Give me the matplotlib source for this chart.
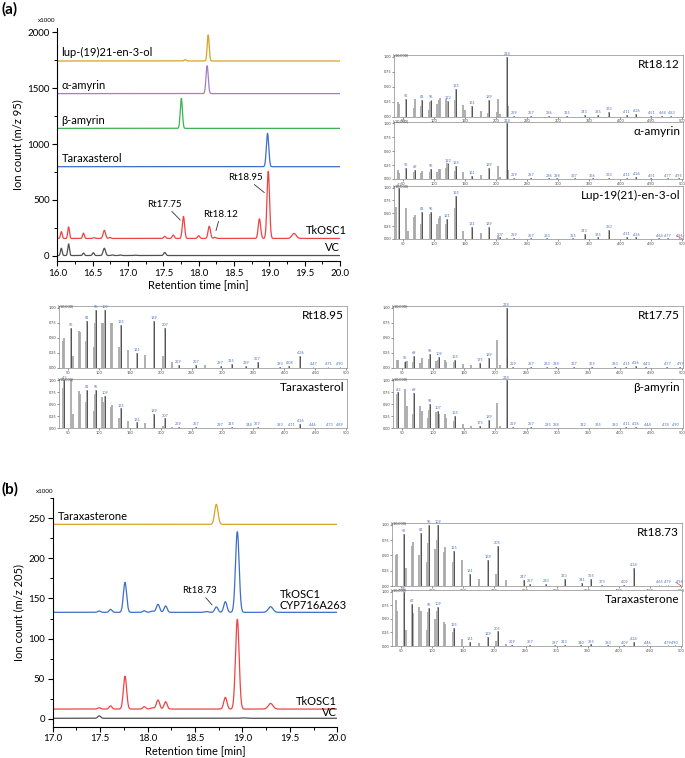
import numpy as np
import matplotlib
matplotlib.use("Agg")
import matplotlib.pyplot as plt
from matplotlib.ticker import MultipleLocator

plt.rcParams['font.family'] = ['Lato', 'DejaVu Sans']

# ---------------- chromatogram (a), m/z 95 ----------------
A_XTICKS = [16.0, 16.5, 17.0, 17.5, 18.0, 18.5, 19.0, 19.5, 20.0]
A_YTICKS = [0, 500, 1000, 1500, 2000]

LUP_BASE = 1743
LUP_RT = [17.81, 18.135]
LUP_H = [12, 233]
LUP_W = [0.015, 0.014]

AAMY_BASE = 1451
AAMY_RT = [18.12]
AAMY_H = [250]
AAMY_W = [0.016]

BAMY_BASE = 1140
BAMY_RT = [17.755]
BAMY_H = [269]
BAMY_W = [0.015]

TARAX_BASE = 797
TARAX_RT = [18.975]
TARAX_H = [298]
TARAX_W = [0.017]

TKA_BASE = 155
TKA_RT = [16.057, 16.16, 16.37, 16.52, 16.665, 16.745, 17.52, 17.64, 17.785, 18.0, 18.15, 18.23, 18.86, 18.985, 19.35]
TKA_H = [61, 103, 48, 6, 73, 10, 18, 30, 197, 24, 109, 10, 176, 600, 45]
TKA_W = [0.012, 0.012, 0.012, 0.015, 0.017, 0.012, 0.015, 0.015, 0.016, 0.015, 0.017, 0.015, 0.017, 0.018, 0.03]

VCA_BASE = 2
VCA_RT = [16.057, 16.16, 16.37, 16.51, 16.665, 16.78, 16.89, 17.1, 17.52]
VCA_H = [65, 104, 22, 25, 65, 5, 5, 3, 28]
VCA_W = [0.012, 0.012, 0.012, 0.013, 0.017, 0.015, 0.015, 0.015, 0.015]

# ---------------- chromatogram (b), m/z 205 ----------------
B_XTICKS = [17.0, 17.5, 18.0, 18.5, 19.0, 19.5, 20.0]
B_YTICKS = [0, 50, 100, 150, 200, 250]

TXONE_BASE = 242.5
TXONE_RT = [18.725]
TXONE_H = [25]
TXONE_W = [0.018]

TKCYP_BASE = 132.7
TKCYP_RT = [17.49, 17.61, 17.762, 17.965, 18.05, 18.11, 18.19, 18.62, 18.725, 18.82, 18.946, 19.297]
TKCYP_H = [1.7, 3.7, 37.4, 2, 1.5, 10, 8, 1, 6.7, 13.3, 100.7, 7]
TKCYP_W = [0.015, 0.015, 0.017, 0.015, 0.02, 0.017, 0.016, 0.02, 0.017, 0.017, 0.019, 0.025]

TKB_BASE = 12
TKB_RT = [17.49, 17.61, 17.762, 17.965, 18.05, 18.11, 18.19, 18.82, 18.946, 19.297]
TKB_H = [1.7, 4, 41, 3, 1.5, 11.3, 9.2, 14.6, 112, 7]
TKB_W = [0.015, 0.015, 0.017, 0.015, 0.02, 0.017, 0.016, 0.017, 0.019, 0.025]

VCB_BASE = 0.5
VCB_RT = [17.49, 19.0]
VCB_H = [3, 0.5]
VCB_W = [0.015, 0.03]

# ---------------- mass spectra ----------------
MS_XTICKS = [50, 100, 150, 200, 250, 300, 350, 400, 450, 500]
MS_YTICKS = [0.0, 0.25, 0.5, 0.75, 1.0]

# Rt18.12
S1_MZ = [41, 43, 55, 67, 69, 79, 81, 91, 93, 95, 105, 107, 109, 119, 121, 133, 135, 147, 149, 161, 175, 187, 189, 201, 203, 207, 218, 219, 229, 257, 286, 315, 343, 365, 383, 411, 426, 451, 468, 483]
S1_I = [0.25, 0.22, 0.30, 0.15, 0.29, 0.18, 0.28, 0.12, 0.25, 0.27, 0.22, 0.28, 0.31, 0.30, 0.27, 0.28, 0.47, 0.20, 0.12, 0.18, 0.10, 0.06, 0.28, 0.08, 0.30, 0.05, 1.00, 0.18, 0.02, 0.02, 0.02, 0.01, 0.03, 0.03, 0.08, 0.03, 0.05, 0.01, 0.01, 0.01]
S1_LAB = [55, 81, 95, 122, 135, 161, 189, 218, 229, 257, 286, 315, 343, 365, 383, 411, 426, 451, 468, 483]
S1_LAB_I = [0.30, 0.28, 0.28, 0.27, 0.47, 0.18, 0.28, 1.00, 0.02, 0.02, 0.02, 0.01, 0.03, 0.03, 0.08, 0.03, 0.05, 0.01, 0.01, 0.01]

# alpha-amyrin
S2_MZ = [41, 43, 55, 67, 69, 79, 81, 93, 95, 105, 107, 109, 119, 121, 133, 135, 147, 161, 175, 189, 203, 207, 218, 219, 229, 257, 286, 298, 327, 356, 383, 411, 426, 451, 477, 495]
S2_I = [0.16, 0.10, 0.20, 0.12, 0.16, 0.10, 0.15, 0.12, 0.18, 0.12, 0.18, 0.18, 0.20, 0.28, 0.15, 0.23, 0.12, 0.06, 0.07, 0.20, 0.23, 0.04, 1.00, 0.17, 0.02, 0.02, 0.01, 0.01, 0.01, 0.01, 0.02, 0.02, 0.04, 0.01, 0.01, 0.01]
S2_LAB = [55, 69, 95, 122, 135, 161, 189, 218, 229, 257, 286, 298, 327, 356, 383, 411, 426, 451, 477, 495]
S2_LAB_I = [0.20, 0.16, 0.18, 0.28, 0.23, 0.06, 0.20, 1.00, 0.02, 0.02, 0.01, 0.01, 0.01, 0.01, 0.02, 0.02, 0.04, 0.01, 0.01, 0.01]

# Lup-19(21)-en-3-ol
S3_MZ = [39, 43, 55, 57, 67, 69, 79, 81, 93, 95, 105, 107, 109, 119, 121, 133, 135, 147, 161, 175, 189, 203, 207, 218, 229, 257, 283, 325, 343, 365, 383, 411, 426, 464, 477]
S3_I = [0.62, 1.00, 0.60, 0.15, 0.43, 0.46, 0.30, 0.53, 0.48, 0.52, 0.30, 0.40, 0.44, 0.30, 0.39, 0.60, 0.84, 0.15, 0.24, 0.12, 0.24, 0.05, 0.03, 0.02, 0.02, 0.01, 0.01, 0.01, 0.10, 0.03, 0.18, 0.04, 0.03, 0.01, 0.01]
S3_LAB = [43, 81, 95, 121, 135, 161, 189, 207, 229, 257, 283, 325, 343, 365, 383, 411, 426, 464, 477, 496]
S3_LAB_I = [1.00, 0.53, 0.52, 0.39, 0.84, 0.24, 0.24, 0.03, 0.02, 0.01, 0.01, 0.01, 0.10, 0.03, 0.18, 0.04, 0.03, 0.01, 0.01, 0.01]

# Rt18.95
S4_MZ = [41, 43, 55, 57, 67, 69, 79, 81, 91, 93, 95, 105, 107, 109, 119, 121, 133, 135, 147, 161, 175, 189, 203, 207, 218, 229, 257, 272, 297, 315, 339, 357, 393, 408, 426]
S4_I = [0.45, 0.50, 0.67, 0.20, 0.62, 0.60, 0.45, 0.78, 0.35, 0.75, 0.97, 0.75, 0.75, 0.97, 0.75, 0.74, 0.35, 0.72, 0.30, 0.25, 0.22, 0.78, 0.20, 0.66, 0.10, 0.05, 0.05, 0.05, 0.03, 0.07, 0.03, 0.10, 0.02, 0.03, 0.20]
S4_LAB = [55, 81, 95, 109, 135, 161, 189, 207, 229, 257, 297, 315, 339, 357, 393, 408, 426, 447, 471, 490]
S4_LAB_I = [0.67, 0.78, 0.97, 0.97, 0.72, 0.25, 0.78, 0.66, 0.05, 0.05, 0.03, 0.07, 0.03, 0.10, 0.02, 0.03, 0.20, 0.01, 0.01, 0.01]

# Taraxasterol
S5_MZ = [41, 43, 55, 57, 67, 69, 79, 81, 91, 93, 95, 105, 107, 109, 119, 121, 133, 135, 147, 161, 175, 189, 203, 207, 218, 229, 257, 297, 315, 344, 357, 393, 411, 426]
S5_I = [0.85, 1.00, 1.00, 0.30, 0.78, 0.72, 0.55, 0.80, 0.35, 0.72, 0.80, 0.65, 0.55, 0.68, 0.45, 0.48, 0.20, 0.41, 0.15, 0.12, 0.10, 0.30, 0.05, 0.20, 0.03, 0.02, 0.02, 0.01, 0.02, 0.01, 0.02, 0.01, 0.01, 0.08]
S5_LAB = [43, 81, 95, 109, 135, 161, 189, 207, 229, 257, 297, 315, 344, 357, 393, 411, 426, 446, 473, 489]
S5_LAB_I = [1.00, 0.80, 0.80, 0.68, 0.41, 0.12, 0.30, 0.20, 0.02, 0.02, 0.01, 0.02, 0.01, 0.02, 0.01, 0.01, 0.08, 0.01, 0.01, 0.01]

# Rt17.75
S6_MZ = [41, 43, 55, 57, 67, 69, 79, 81, 93, 95, 105, 107, 109, 119, 121, 133, 135, 147, 161, 175, 189, 203, 207, 218, 219, 229, 257, 283, 298, 327, 355, 393, 411, 426, 443, 477, 497]
S6_I = [0.13, 0.13, 0.10, 0.12, 0.10, 0.20, 0.08, 0.17, 0.15, 0.24, 0.12, 0.13, 0.18, 0.13, 0.10, 0.10, 0.14, 0.07, 0.05, 0.09, 0.17, 0.47, 0.05, 1.00, 0.17, 0.02, 0.02, 0.01, 0.01, 0.01, 0.01, 0.01, 0.02, 0.03, 0.01, 0.01, 0.01]
S6_LAB = [55, 69, 95, 109, 135, 175, 189, 218, 229, 257, 283, 298, 327, 355, 393, 411, 426, 443, 477, 497]
S6_LAB_I = [0.12, 0.20, 0.24, 0.18, 0.14, 0.09, 0.17, 1.00, 0.02, 0.02, 0.01, 0.01, 0.01, 0.01, 0.01, 0.02, 0.03, 0.01, 0.01, 0.01]

# beta-amyrin
S7_MZ = [41, 43, 55, 57, 67, 69, 79, 81, 91, 93, 95, 105, 107, 109, 119, 121, 133, 135, 147, 161, 175, 189, 203, 207, 218, 219, 229, 257, 285, 298, 342, 365, 393, 411, 426]
S7_I = [0.72, 0.75, 0.82, 0.47, 0.30, 0.74, 0.47, 0.35, 0.20, 0.37, 0.51, 0.33, 0.36, 0.30, 0.30, 0.20, 0.15, 0.25, 0.08, 0.05, 0.05, 0.17, 0.53, 0.05, 1.00, 0.18, 0.02, 0.02, 0.01, 0.01, 0.01, 0.01, 0.01, 0.02, 0.03]
S7_LAB = [43, 69, 95, 107, 135, 175, 189, 218, 229, 257, 285, 298, 342, 365, 393, 411, 426, 444, 474, 490]
S7_LAB_I = [0.75, 0.74, 0.51, 0.36, 0.25, 0.05, 0.17, 1.00, 0.02, 0.02, 0.01, 0.01, 0.01, 0.01, 0.01, 0.02, 0.03, 0.01, 0.01, 0.01]

# Rt18.73
S8_MZ = [41, 43, 55, 57, 67, 69, 79, 81, 91, 93, 95, 105, 107, 109, 119, 121, 133, 135, 147, 161, 175, 189, 203, 205, 218, 247, 257, 283, 313, 341, 355, 373, 409, 424]
S8_I = [0.50, 0.52, 0.85, 0.30, 0.65, 0.72, 0.50, 0.87, 0.40, 0.70, 1.00, 0.60, 0.75, 1.00, 0.55, 0.63, 0.40, 0.57, 0.43, 0.20, 0.12, 0.43, 0.20, 0.66, 0.10, 0.10, 0.03, 0.03, 0.12, 0.05, 0.12, 0.02, 0.02, 0.29]
S8_LAB = [55, 81, 95, 109, 135, 161, 189, 205, 247, 257, 283, 313, 341, 355, 373, 409, 424, 465, 479, 498]
S8_LAB_I = [0.85, 0.87, 1.00, 1.00, 0.57, 0.20, 0.43, 0.66, 0.10, 0.03, 0.03, 0.12, 0.05, 0.12, 0.02, 0.02, 0.29, 0.01, 0.01, 0.01]

# Taraxasterone
S9_MZ = [41, 43, 55, 57, 67, 69, 79, 81, 91, 93, 95, 105, 107, 109, 119, 121, 133, 135, 147, 161, 175, 189, 203, 205, 218, 229, 257, 297, 313, 340, 355, 383, 409, 424]
S9_I = [0.85, 0.65, 1.00, 0.30, 0.78, 0.60, 0.72, 0.65, 0.30, 0.62, 0.70, 0.50, 0.65, 0.72, 0.45, 0.40, 0.25, 0.33, 0.12, 0.08, 0.06, 0.17, 0.10, 0.27, 0.03, 0.02, 0.02, 0.01, 0.02, 0.01, 0.03, 0.01, 0.01, 0.08]
S9_LAB = [55, 67, 95, 109, 135, 161, 189, 205, 229, 257, 297, 313, 340, 355, 383, 409, 424, 446, 479, 490]
S9_LAB_I = [1.00, 0.78, 0.70, 0.72, 0.33, 0.08, 0.17, 0.27, 0.02, 0.02, 0.01, 0.02, 0.01, 0.03, 0.01, 0.01, 0.08, 0.01, 0.01, 0.01]

# ---------------- colours ----------------
C_GOLD = '#d8a326'
C_PURPLE = '#a27fc8'
C_GREEN = '#3db24f'
C_BLUE = '#3b6fc6'
C_RED = '#ef4343'
C_GREY = '#505050'
C_MSLAB = '#4f74c0'

W, H = 685, 758
fig = plt.figure(figsize=(W / 100, H / 100), dpi=100)


def rect(l, t, r, b):
    return [l / W, 1 - b / H, (r - l) / W, (b - t) / H]


def trace(x, base, rts, hs, ws):
    y = np.full_like(x, float(base))
    for rt, h, w in zip(rts, hs, ws):
        y += h * np.exp(-0.5 * ((x - rt) / w) ** 2)
    return y


def style_chrom(ax):
    for s in ['top', 'right']:
        ax.spines[s].set_visible(False)
    for s in ['left', 'bottom']:
        ax.spines[s].set_linewidth(0.8)
    ax.tick_params(which='major', direction='out', length=3.5, width=0.8, labelsize=7, pad=2)
    ax.tick_params(which='minor', direction='out', length=2.2, width=0.7)


# ---------- panel (a) chromatogram ----------
axA = fig.add_axes(rect(57.3, 27.8, 340, 261))
xa = np.linspace(16, 20, 3000)
for base, rts, hs, ws, c in [
    (LUP_BASE, LUP_RT, LUP_H, LUP_W, C_GOLD),
    (AAMY_BASE, AAMY_RT, AAMY_H, AAMY_W, C_PURPLE),
    (BAMY_BASE, BAMY_RT, BAMY_H, BAMY_W, C_GREEN),
    (TARAX_BASE, TARAX_RT, TARAX_H, TARAX_W, C_BLUE),
    (TKA_BASE, TKA_RT, TKA_H, TKA_W, C_RED),
    (VCA_BASE, VCA_RT, VCA_H, VCA_W, C_GREY),
]:
    axA.plot(xa, trace(xa, base, rts, hs, ws), color=c, lw=0.9)
axA.set_xlim(16, 20)
axA.set_ylim(-47, 2040)
axA.set_xticks(A_XTICKS)
axA.set_yticks(A_YTICKS)
axA.xaxis.set_minor_locator(MultipleLocator(0.25))
axA.yaxis.set_minor_locator(MultipleLocator(250))
style_chrom(axA)
axA.set_xlabel('Retention time [min]', fontsize=8, labelpad=1)
axA.set_ylabel('Ion count (m/z 95)', fontsize=8, labelpad=3)
fs_lab = 8
axA.text(16.06, LUP_BASE + 25, 'lup-(19)21-en-3-ol', fontsize=fs_lab, va='bottom')
axA.text(16.06, AAMY_BASE + 25, 'α-amyrin', fontsize=fs_lab, va='bottom')
axA.text(16.06, BAMY_BASE + 25, 'β-amyrin', fontsize=fs_lab, va='bottom')
axA.text(16.06, TARAX_BASE + 25, 'Taraxasterol', fontsize=fs_lab, va='bottom')
axA.text(20.1, TKA_BASE + 25, 'TkOSC1', fontsize=fs_lab, va='bottom', ha='right')
axA.text(20.0, VCA_BASE + 25, 'VC', fontsize=fs_lab, va='bottom', ha='right')
axA.annotate('Rt17.75', xy=(17.74, 319), xytext=(17.52, 440), fontsize=7, ha='center',
             arrowprops=dict(arrowstyle='-', lw=0.6, color='#333333', shrinkA=0, shrinkB=0))
axA.annotate('Rt18.12', xy=(18.245, 224), xytext=(18.31, 350), fontsize=7, ha='center',
             arrowprops=dict(arrowstyle='-', lw=0.6, color='#333333', shrinkA=0, shrinkB=0))
axA.annotate('Rt18.95', xy=(18.93, 565), xytext=(18.66, 680), fontsize=7, ha='center',
             arrowprops=dict(arrowstyle='-', lw=0.6, color='#333333', shrinkA=0, shrinkB=0))
fig.text(47 / W, 1 - 20 / H, 'x1000', fontsize=4.5, ha='center', va='center')
fig.text(2 / W, 1 - 9 / H, '(a)', fontsize=11, fontweight='bold', ha='left', va='center')

# ---------- panel (b) chromatogram ----------
axB = fig.add_axes(rect(52.7, 498.3, 337.3, 726.7))
xb = np.linspace(17, 20, 3000)
for base, rts, hs, ws, c in [
    (TXONE_BASE, TXONE_RT, TXONE_H, TXONE_W, C_GOLD),
    (TKCYP_BASE, TKCYP_RT, TKCYP_H, TKCYP_W, C_BLUE),
    (TKB_BASE, TKB_RT, TKB_H, TKB_W, C_RED),
    (VCB_BASE, VCB_RT, VCB_H, VCB_W, C_GREY),
]:
    axB.plot(xb, trace(xb, base, rts, hs, ws), color=c, lw=0.9)
axB.set_xlim(17, 20)
axB.set_ylim(-10, 275)
axB.set_xticks(B_XTICKS)
axB.set_yticks(B_YTICKS)
axB.xaxis.set_minor_locator(MultipleLocator(0.25))
axB.yaxis.set_minor_locator(MultipleLocator(25))
style_chrom(axB)
axB.set_xlabel('Retention time [min]', fontsize=8, labelpad=1)
axB.set_ylabel('Ion count (m/z 205)', fontsize=8, labelpad=3)
axB.text(17.05, TXONE_BASE + 3, 'Taraxasterone', fontsize=fs_lab, va='bottom')
axB.text(19.395, 148, 'TkOSC1', fontsize=fs_lab, va='bottom')
axB.text(19.395, 134, 'CYP716A263', fontsize=fs_lab, va='bottom')
axB.text(20.0, TKB_BASE + 3, 'TkOSC1', fontsize=fs_lab, va='bottom', ha='right')
axB.text(20.0, VCB_BASE + 0.5, 'VC', fontsize=fs_lab, va='bottom', ha='right')
axB.annotate('Rt18.73', xy=(18.68, 142), xytext=(18.545, 157), fontsize=7, ha='center',
             arrowprops=dict(arrowstyle='-', lw=0.6, color='#333333', shrinkA=0, shrinkB=0))
fig.text(45 / W, 1 - 491.7 / H, 'x1000', fontsize=4.5, ha='center', va='center')
fig.text(2 / W, 1 - 489 / H, '(b)', fontsize=11, fontweight='bold', ha='left', va='center')


# ---------- mass spectra ----------
def draw_ms(box, mz, inten, lab, lab_i, title, red_end=False):
    ax = fig.add_axes(rect(*box))
    ax.vlines(mz, 0, inten, color='#a9a9a9', lw=1.3)
    ax.vlines(lab, 0, lab_i, color='#2e2e2e', lw=0.5)
    for m, i in zip(lab, lab_i):
        ax.text(m, i + 0.015, str(m), fontsize=2.8, color=C_MSLAB, ha='center', va='bottom')
    if red_end:
        ax.plot([492, 501], [0.06, 0.0], color=C_RED, lw=0.5)
    ax.set_xlim(35, 502)
    ax.set_ylim(0, 1.03)
    ax.set_xticks(MS_XTICKS)
    ax.set_yticks(MS_YTICKS)
    ax.set_yticklabels(['0.00', '0.25', '0.50', '0.75', '1.00'])
    ax.tick_params(labelsize=2.8, length=1.2, width=0.4, pad=0.8, colors='#444444')
    for s in ax.spines.values():
        s.set_linewidth(0.5)
        s.set_color('#8a8a8a')
    ax.text(0.99, 0.93, title, transform=ax.transAxes, fontsize=8.5, ha='right', va='top')
    ax.text(-0.005, 1.0, '(x10,000)', transform=ax.transAxes, fontsize=2.8, ha='left', va='center', color='#444444')
    return ax


draw_ms((394, 55, 683, 116.7), S1_MZ, S1_I, S1_LAB, S1_LAB_I, 'Rt18.12')
draw_ms((394, 121.7, 683, 179), S2_MZ, S2_I, S2_LAB, S2_LAB_I, 'α-amyrin')
draw_ms((394, 186, 683, 239), S3_MZ, S3_I, S3_LAB, S3_LAB_I, 'Lup-19(21)-en-3-ol', red_end=True)
draw_ms((59, 306, 347, 368), S4_MZ, S4_I, S4_LAB, S4_LAB_I, 'Rt18.95')
draw_ms((59, 379, 347, 428), S5_MZ, S5_I, S5_LAB, S5_LAB_I, 'Taraxasterol')
draw_ms((393, 306, 683, 368), S6_MZ, S6_I, S6_LAB, S6_LAB_I, 'Rt17.75')
draw_ms((393, 379, 683, 428), S7_MZ, S7_I, S7_LAB, S7_LAB_I, 'β-amyrin')
draw_ms((392, 523, 682, 586), S8_MZ, S8_I, S8_LAB, S8_LAB_I, 'Rt18.73', red_end=True)
draw_ms((392, 590, 682, 646), S9_MZ, S9_I, S9_LAB, S9_LAB_I, 'Taraxasterone')

fig.savefig('out.png', dpi=100)
